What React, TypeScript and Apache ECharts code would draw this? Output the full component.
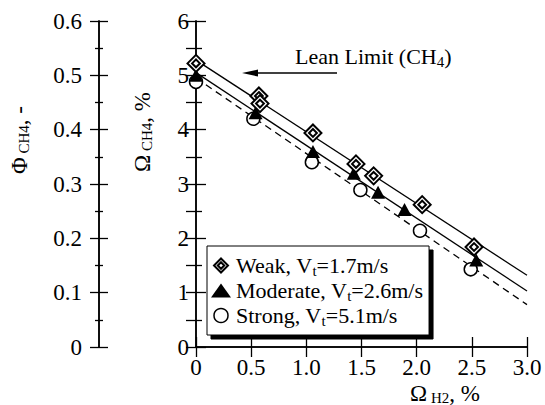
import React, { useEffect, useRef } from 'react';
import * as echarts from 'echarts';

// ---- data ----
const weak = [[0, 5.22], [0.57, 4.62], [0.58, 4.48], [1.06, 3.94], [1.45, 3.37], [1.61, 3.15], [2.05, 2.62], [2.52, 1.84]];
const moderate = [[0, 5.0], [0.54, 4.31], [1.06, 3.6], [1.43, 3.2], [1.65, 2.85], [1.89, 2.53], [2.54, 1.6]];
const strong = [[0, 4.88], [0.52, 4.2], [1.05, 3.4], [1.49, 2.89], [2.03, 2.14], [2.49, 1.43]];
const weakFit = [[0, 5.28], [3, 1.32]];
const moderateFit = [[0, 5.05], [3, 1.03]];
const strongFit = [[0, 4.95], [3, 0.78]];
const seriesNames = ['Weak', 'Moderate', 'Strong'];
const legendLabels = ['{n|Weak, V}{s|t}{n|=1.7m/s}', '{n|Moderate, V}{s|t}{n|=2.6m/s}', '{n|Strong, V}{s|t}{n|=5.1m/s}'];

const FONT = 'Liberation Serif';
const DIAMOND = 'path://M0,-10L10,0L0,10L-10,0ZM0,-4.6L4.6,0L0,4.6L-4.6,0Z';
const TRI = 'triangle';
const CIRC = 'circle';

const rich = {
  n: { fontFamily: FONT, fontSize: 22, color: '#000', lineHeight: 25 },
  s: { fontFamily: FONT, fontSize: 15, color: '#000', lineHeight: 15, padding: [10, 0, 0, 0] },
};
const titleRich = {
  n: { fontFamily: FONT, fontSize: 23, color: '#000', lineHeight: 22 },
  s: { fontFamily: FONT, fontSize: 15, color: '#000', lineHeight: 12, padding: [10, 0, 0, 0] },
};

const axisLine = { show: true, lineStyle: { color: '#000', width: 1.5 } };
const tickStyle = { color: '#000', width: 1.3 };

export default function App() {
  const ref = useRef<HTMLDivElement>(null);
  useEffect(() => {
    const chart = echarts.init(ref.current!, null, { renderer: 'svg' });
    const labelStyle = { fontFamily: FONT, fontSize: 23, color: '#000' };
    chart.setOption({
      animation: false,
      backgroundColor: '#fff',
      grid: { left: 196, top: 21, width: 331, height: 326, containLabel: false },
      xAxis: [
        {
          type: 'value', min: 0, max: 3, interval: 0.5, position: 'bottom',
          axisLine, splitLine: { show: false },
          axisTick: { inside: true, length: 10, lineStyle: tickStyle },
          axisLabel: { ...labelStyle, margin: 9, formatter: (v: number) => (v === 0 ? '0' : v.toFixed(1)) },
        },
        {
          type: 'value', min: 0, max: 3, interval: 0.5, position: 'top',
          axisLine, splitLine: { show: false },
          axisTick: { inside: true, length: 10, lineStyle: tickStyle },
          axisLabel: { show: false },
        },
      ],
      yAxis: [
        {
          type: 'value', min: 0, max: 6, interval: 1, position: 'left',
          axisLine, splitLine: { show: false },
          axisTick: { inside: true, length: 10, lineStyle: tickStyle },
          minorTick: { show: true, splitNumber: 2, length: 6, lineStyle: tickStyle },
          axisLabel: { ...labelStyle, margin: 7 },
        },
        {
          type: 'value', min: 0, max: 6, interval: 0.5, position: 'right',
          axisLine, splitLine: { show: false },
          axisTick: { inside: true, length: 10, lineStyle: tickStyle },
          axisLabel: { show: false },
        },
        {
          type: 'value', min: 0, max: 0.6, interval: 0.1, position: 'left', offset: 97,
          axisLine, splitLine: { show: false },
          axisTick: { inside: false, length: 9, lineStyle: tickStyle },
          minorTick: { show: true, splitNumber: 2, length: 4, lineStyle: tickStyle },
          axisLabel: { ...labelStyle, margin: 17, formatter: (v: number) => (v === 0 ? '0' : v.toFixed(1)) },
        },
        {
          type: 'value', min: 0, max: 0.6, interval: 0.1, position: 'left', offset: 97,
          axisLine, splitLine: { show: false },
          axisTick: { inside: true, length: 9, lineStyle: tickStyle },
          minorTick: { show: true, splitNumber: 2, length: 4, lineStyle: tickStyle },
          axisLabel: { show: false },
        },
      ],
      legend: {
        orient: 'vertical', left: 207, top: 246,
        data: [
          { name: 'Weak', icon: DIAMOND, itemStyle: { color: '#fff', borderColor: '#000', borderWidth: 2 } },
          { name: 'Moderate', icon: TRI, itemStyle: { color: '#000', borderColor: '#000', borderWidth: 0 } },
          { name: 'Strong', icon: CIRC, itemStyle: { color: '#fff', borderColor: '#000', borderWidth: 1.5 } },
        ],
        formatter: (name: string) => legendLabels[seriesNames.indexOf(name)],
        itemWidth: 20, itemHeight: 14, itemGap: 0,
        padding: [7, 6, 7, 4],
        backgroundColor: '#fff', borderColor: '#000', borderWidth: 1,
        shadowColor: '#000', shadowBlur: 0, shadowOffsetX: 4, shadowOffsetY: 4,
        textStyle: { fontFamily: FONT, fontSize: 22, color: '#000', rich },
        selectedMode: false,
        z: 10,
      },
      series: [
        { type: 'line', data: weakFit, symbol: 'none', lineStyle: { color: '#000', width: 1.3 }, z: 2, silent: true },
        { type: 'line', data: moderateFit, symbol: 'none', lineStyle: { color: '#000', width: 1.3 }, z: 2, silent: true },
        { type: 'line', data: strongFit, symbol: 'none', lineStyle: { color: '#000', width: 1.3, type: [7, 5] }, z: 2, silent: true },
        {
          name: 'Strong', type: 'scatter', data: strong, symbol: CIRC, symbolSize: 13, z: 3,
          itemStyle: { color: '#fff', borderColor: '#000', borderWidth: 1.5, opacity: 1 },
        },
        {
          name: 'Moderate', type: 'scatter', data: moderate, symbol: TRI, symbolSize: [14, 13], z: 4,
          itemStyle: { color: '#000', opacity: 1 },
        },
        {
          name: 'Weak', type: 'scatter', data: weak, symbol: DIAMOND, symbolSize: 17, z: 5,
          itemStyle: { color: '#fff', borderColor: '#000', borderWidth: 2, opacity: 1 },
        },
      ],
      graphic: [
        {
          type: 'text', left: 295, top: 44, z: 20,
          style: { text: '{n|Lean Limit (CH}{s|4}{n|)}', rich },
        },
        { type: 'line', z: 20, shape: { x1: 256, y1: 73, x2: 337, y2: 73 }, style: { stroke: '#000', lineWidth: 1.5 } },
        { type: 'polygon', z: 20, shape: { points: [[242, 73], [258, 69.5], [258, 76.5]] }, style: { fill: '#000' } },
        {
          type: 'text', x: 445, y: 393, z: 20,
          style: { text: '{n|Ω}{s| H2}{n|, %}', rich: titleRich, align: 'center', verticalAlign: 'middle' },
        },
        {
          type: 'text', x: 142, y: 132, rotation: Math.PI / 2, z: 20,
          style: { text: '{n|Ω}{s| CH4}{n|, %}', rich: titleRich, align: 'center', verticalAlign: 'middle' },
        },
        {
          type: 'text', x: 19, y: 140, rotation: Math.PI / 2, z: 20,
          style: { text: '{n|Φ}{s| CH4}{n|, -}', rich: titleRich, align: 'center', verticalAlign: 'middle' },
        },
      ],
    });
    return () => chart.dispose();
  }, []);
  return <div ref={ref} style={{ position: 'absolute', left: 0, top: 0, width: 545, height: 405, background: '#fff' }} />;
}
